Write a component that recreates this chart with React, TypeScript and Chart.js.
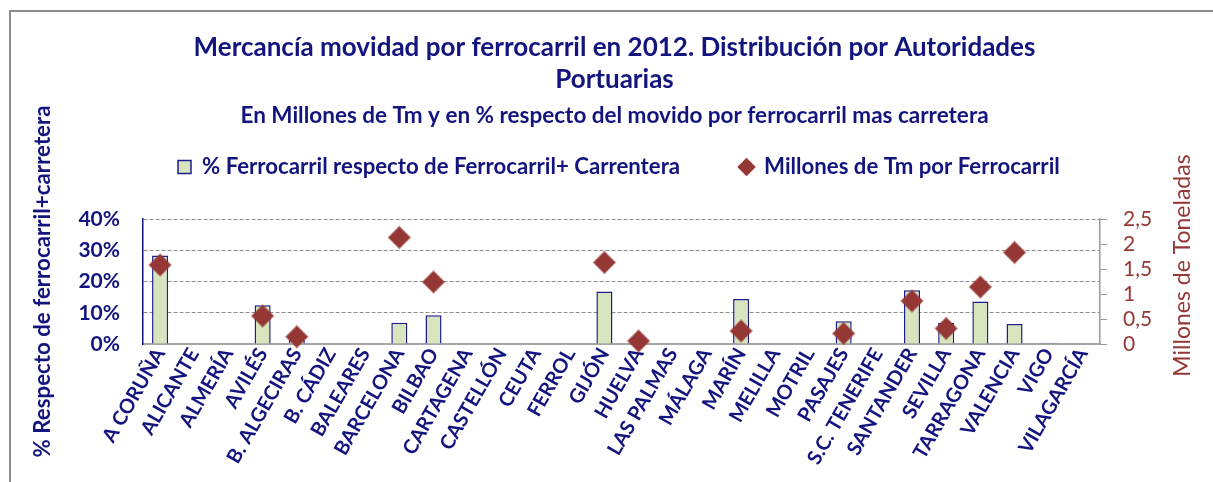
import { useEffect, useRef } from 'react';
import { Chart, registerables } from 'chart.js';

Chart.register(...registerables);

const categories = [
  'A CORUÑA', 'ALICANTE', 'ALMERÍA', 'AVILÉS', 'B. ALGECIRAS', 'B. CÁDIZ', 'BALEARES',
  'BARCELONA', 'BILBAO', 'CARTAGENA', 'CASTELLÓN', 'CEUTA', 'FERROL', 'GIJÓN', 'HUELVA',
  'LAS PALMAS', 'MÁLAGA', 'MARÍN', 'MELILLA', 'MOTRIL', 'PASAJES', 'S.C. TENERIFE',
  'SANTANDER', 'SEVILLA', 'TARRAGONA', 'VALENCIA', 'VIGO', 'VILAGARCÍA',
];

// % ferrocarril respecto de ferrocarril + carretera
const railShare: (number | null)[] = [
  28.3, null, null, 12.4, 1.3, null, null,
  6.8, 9.2, null, null, null, null, 16.8, null,
  null, null, 14.4, null, null, 7.3, null,
  17.2, 6.7, 13.6, 6.4, 0.4, null,
];

// Millones de Tm por ferrocarril
const railTonnes: (number | null)[] = [
  1.58, null, null, 0.56, 0.145, null, null,
  2.13, 1.24, null, null, null, null, 1.63, 0.06,
  null, null, 0.26, null, null, 0.21, null,
  0.86, 0.31, 1.14, 1.83, null, null,
];

const TITLE_LINES = ['Mercancía movidad por ferrocarril en 2012. Distribución por Autoridades', 'Portuarias'];
const SUBTITLE = 'En Millones de Tm y en % respecto del movido por ferrocarril mas carretera';
const LEGEND_BAR = '% Ferrocarril respecto de Ferrocarril+ Carrentera';
const LEGEND_LINE = 'Millones de Tm por Ferrocarril';
const LEFT_TITLE = '% Respecto de ferrocarril+carretera';
const RIGHT_TITLE = 'Millones de Toneladas';

const NAVY = '#14147e';
const RED = '#953735';
const GRAY = '#9a9a9a';

export default function App() {
  const ref = useRef<HTMLCanvasElement>(null);

  useEffect(() => {
    document.body.style.margin = '0';
    document.body.style.overflow = 'hidden';
    if (!ref.current) return;
    Chart.defaults.font.family = 'Lato';

    const legendTweak = {
      id: 'legendTweak',
      beforeInit(chart: any) {
        const fit = chart.legend.fit;
        chart.legend.fit = function () {
          fit.call(this);
          this.height = 90;
        };
      },
      afterLayout(chart: any) {
        const lg = chart.legend;
        const P = lg.options.labels.padding;
        const fs = lg.options.labels.font.size;
        const dy = 167 - (lg.top + P + fs / 2);
        lg.top += dy;
        lg.bottom += dy;
        const cx = (lg.left + P + lg.right - lg.lineWidths[0]) / 2;
        const dx = 178 - cx;
        lg.left += dx;
        lg.right += dx;
      },
    };

    const rightTitle = {
      id: 'rightTitle',
      afterDraw(chart: any) {
        const s = chart.scales.y1;
        const ctx = chart.ctx;
        ctx.save();
        ctx.translate(s.right - 30, (s.top + s.bottom) / 2 - 16);
        ctx.rotate(-Math.PI / 2);
        ctx.font = '23px Lato';
        ctx.fillStyle = RED;
        ctx.textAlign = 'center';
        ctx.textBaseline = 'middle';
        ctx.fillText(RIGHT_TITLE, 0, 0);
        ctx.restore();
      },
    };

    const chart = new Chart(ref.current, {
      type: 'bar',
      data: {
        labels: categories,
        datasets: [
          {
            type: 'bar',
            label: LEGEND_BAR,
            data: railShare,
            yAxisID: 'y',
            backgroundColor: '#D7E4BD',
            borderColor: '#1E1E8C',
            borderWidth: 1.5,
            categoryPercentage: 1,
            barPercentage: 0.47,
            order: 2,
          } as any,
          {
            type: 'line',
            label: LEGEND_LINE,
            data: railTonnes,
            yAxisID: 'y1',
            showLine: false,
            pointStyle: 'rectRot',
            pointRadius: 10.5,
            pointBackgroundColor: RED,
            pointBorderColor: 'rgba(149,55,53,0.55)',
            pointBorderWidth: 2,
            backgroundColor: RED,
            borderColor: RED,
            order: 1,
            clip: false,
          } as any,
        ],
      },
      options: {
        responsive: false,
        animation: false,
        events: [],
        layout: { padding: { left: 16, top: 0, right: 0, bottom: 0 } },
        plugins: {
          tooltip: { enabled: false },
          title: {
            display: true,
            text: TITLE_LINES,
            color: NAVY,
            font: { size: 26, weight: 'bold', lineHeight: 31.5 / 26 },
            padding: { top: 32, bottom: 0 },
          },
          subtitle: {
            display: true,
            text: SUBTITLE,
            color: NAVY,
            font: { size: 22.5, weight: 'bold', lineHeight: 1.2 },
            padding: { top: 7, bottom: 0 },
          },
          legend: {
            display: true,
            position: 'top',
            labels: {
              usePointStyle: true,
              boxWidth: 13,
              boxHeight: 13,
              padding: 60,
              color: NAVY,
              font: { size: 22.2, weight: 'bold' },
              sort: (a: any, b: any) => a.datasetIndex - b.datasetIndex,
              generateLabels(c: any) {
                const items = (Chart.defaults.plugins.legend.labels as any).generateLabels(c);
                return items.map((it: any) =>
                  it.datasetIndex === 0
                    ? { ...it, pointStyle: 'rect', fillStyle: '#D7E4BD', strokeStyle: '#1E1E8C', lineWidth: 1.5, fontColor: NAVY }
                    : { ...it, pointStyle: 'rectRot', fillStyle: RED, strokeStyle: RED, lineWidth: 0, fontColor: NAVY }
                );
              },
            },
          },
        },
        scales: {
          x: {
            offset: true,
            grid: { display: false, drawTicks: false },
            border: { color: '#A6A6A6', width: 2 },
            ticks: {
              autoSkip: false,
              maxRotation: 60,
              minRotation: 60,
              color: NAVY,
              font: { size: 20, weight: 'bold' },
              padding: 0,
            },
            afterFit: (s: any) => { s.height = 138; },
          },
          y: {
            position: 'left',
            min: 0,
            max: 40,
            ticks: {
              stepSize: 10,
              autoSkip: false,
              callback: (v: any) => v + '%',
              color: NAVY,
              font: { size: 21, weight: 'bold', lineHeight: 1 },
              padding: 23,
            },
            grid: {
              drawTicks: false,
              color: (ctx: any) => (ctx.tick && ctx.tick.value === 0 ? 'rgba(0,0,0,0)' : '#8c8c8c'),
              lineWidth: 1,
            },
            border: { color: NAVY, width: 1.5, dash: [4, 2] },
            title: {
              display: true,
              text: LEFT_TITLE,
              color: NAVY,
              font: { size: 22.3, weight: 'bold', lineHeight: 1.2 },
              padding: { top: 13.3, bottom: 0 },
            },
            afterFit: (s: any) => { s.width = 127; },
          },
          y1: {
            position: 'right',
            min: 0,
            max: 2.5,
            ticks: {
              stepSize: 0.5,
              autoSkip: false,
              callback: (v: any) => String(v).replace('.', ','),
              color: RED,
              font: { size: 21, lineHeight: 1 },
              padding: 16,
            },
            grid: { drawOnChartArea: false, drawTicks: true, tickLength: 7, color: GRAY },
            border: { color: GRAY, width: 1.5 },
            afterFit: (s: any) => { s.width = 113; },
          },
        },
      } as any,
      plugins: [legendTweak, rightTitle],
    });

    return () => chart.destroy();
  }, []);

  return (
    <div style={{ position: 'relative', width: 1213, height: 482, overflow: 'hidden', background: '#fff' }}>
      <div
        style={{
          position: 'absolute',
          left: 9,
          top: 10,
          width: 1400,
          height: 700,
          border: '2px solid #8c8c8c',
          boxSizing: 'border-box',
        }}
      />
      <canvas ref={ref} width={1213} height={482} style={{ position: 'absolute', left: 0, top: 0, display: 'block' }} />
    </div>
  );
}
